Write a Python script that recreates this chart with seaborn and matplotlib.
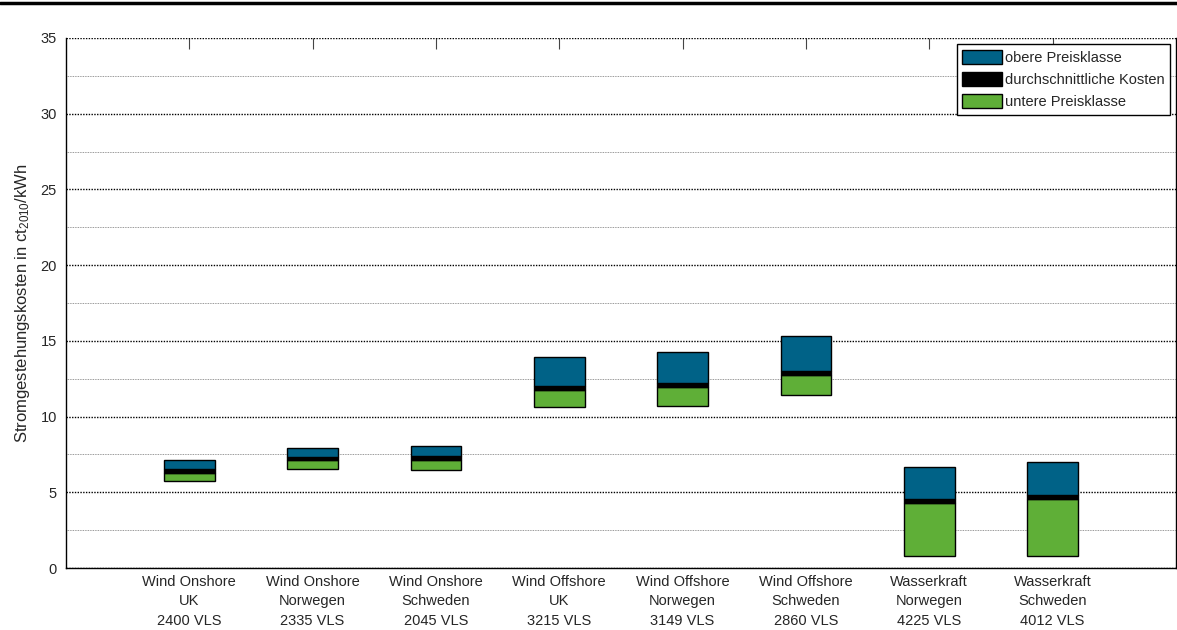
import matplotlib
matplotlib.use("Agg")
import matplotlib.pyplot as plt
from matplotlib.patches import Patch
from matplotlib.lines import Line2D
from matplotlib.ticker import MultipleLocator
import seaborn as sns
import numpy as np

# Stromgestehungskosten in ct2010/kWh
categories = [
    "Wind Onshore\nUK\n2400 VLS",
    "Wind Onshore\nNorwegen\n2335 VLS",
    "Wind Onshore\nSchweden\n2045 VLS",
    "Wind Offshore\nUK\n3215 VLS",
    "Wind Offshore\nNorwegen\n3149 VLS",
    "Wind Offshore\nSchweden\n2860 VLS",
    "Wasserkraft\nNorwegen\n4225 VLS",
    "Wasserkraft\nSchweden\n4012 VLS",
]
untere = [5.75, 6.52, 6.45, 10.6, 10.72, 11.43, 0.77, 0.77]
durchschnitt = [6.43, 7.23, 7.25, 11.9, 12.07, 12.9, 4.45, 4.67]
obere = [7.1, 7.95, 8.08, 13.96, 14.24, 15.3, 6.67, 6.98]

BLUE = "#006287"
GREEN = "#5FAF37"
BAND = 0.25  # Dicke des Mittelwert-Balkens

sns.set_style("white")
plt.rcParams["font.family"] = ["Liberation Sans", "DejaVu Sans"]
plt.rcParams["mathtext.default"] = "regular"

fig, ax = plt.subplots(figsize=(11.77, 6.3), dpi=100)
fig.subplots_adjust(left=0.056, right=0.9991, top=0.9397, bottom=0.0984)

lo = np.array(untere)
mid = np.array(durchschnitt)
hi = np.array(obere)

bar_kws = dict(width=0.41, edgecolor="black", linewidth=1, errorbar=None, ax=ax, zorder=3)
sns.barplot(x=categories, y=(mid - BAND / 2) - lo, bottom=lo, color=GREEN, saturation=1, **bar_kws)
sns.barplot(x=categories, y=np.full(len(mid), BAND), bottom=mid - BAND / 2, color="black", saturation=1, **bar_kws)
sns.barplot(x=categories, y=hi - (mid + BAND / 2), bottom=mid + BAND / 2, color=BLUE, saturation=1, **bar_kws)

ax.set_xlim(-1, 8)
ax.set_ylim(0, 35)
ax.yaxis.set_major_locator(MultipleLocator(5))
ax.yaxis.set_minor_locator(MultipleLocator(2.5))
ax.set_axisbelow(True)
ax.grid(which="major", axis="y", linestyle=(0, (1, 1)), color="black", linewidth=1.0)
ax.grid(which="minor", axis="y", linestyle=(0, (1, 1)), color="#777777", linewidth=0.6)

for side in ["left", "bottom", "right"]:
    ax.spines[side].set_visible(True)
    ax.spines[side].set_color("black")
    ax.spines[side].set_linewidth(1.0)
ax.spines["top"].set_visible(False)

ax.tick_params(axis="x", direction="in", length=8, width=0.8, color="#444444", top=True,
               labelsize=10.5, pad=5)
ax.tick_params(axis="y", which="both", left=False, labelsize=10.5, pad=3)
for t in ax.get_xticklabels():
    t.set_linespacing(1.5)

ax.set_ylabel("Stromgestehungskosten in ct$_{2010}$/kWh", fontsize=12, labelpad=6)

handles = [
    Patch(facecolor=BLUE, edgecolor="black", label="obere Preisklasse"),
    Patch(facecolor="black", edgecolor="black", label="durchschnittliche Kosten"),
    Patch(facecolor=GREEN, edgecolor="black", label="untere Preisklasse"),
]
leg = ax.legend(handles=handles, loc="upper right", fontsize=10.5, frameon=True, fancybox=False,
                edgecolor="black", framealpha=1, borderaxespad=0.4, handlelength=2.7,
                handleheight=1.1, handletextpad=0.2, labelspacing=0.5, borderpad=0.4)
leg.get_frame().set_linewidth(1.0)

fig.add_artist(Line2D([0, 1], [0.996, 0.996], transform=fig.transFigure, color="black", linewidth=2.5))

fig.savefig("out.png", dpi=100)
